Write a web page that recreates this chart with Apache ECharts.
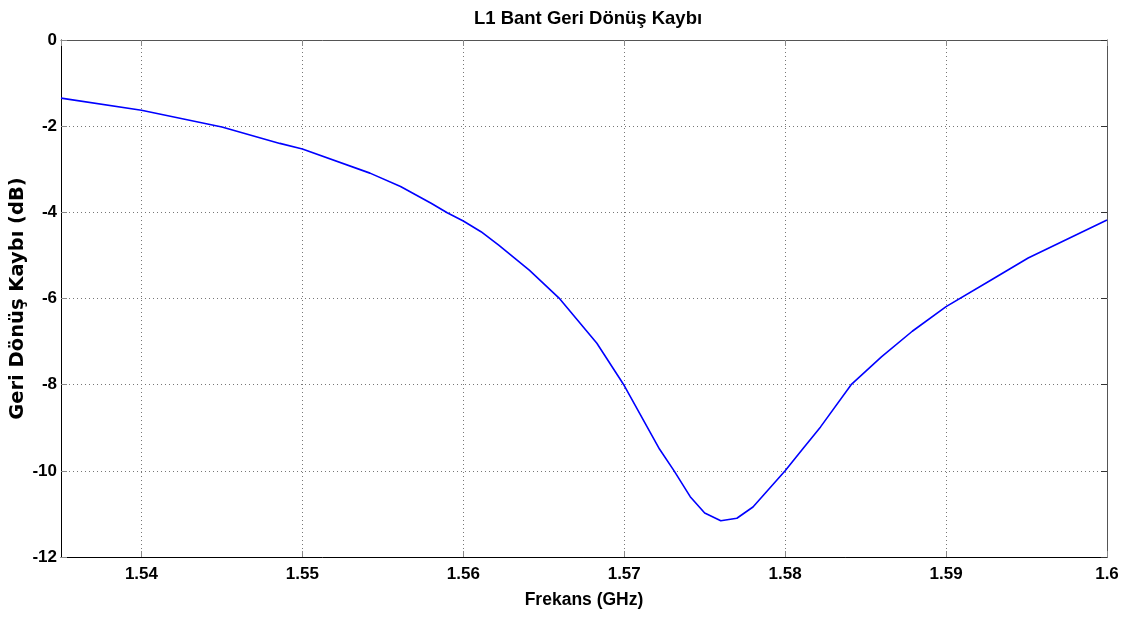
<!DOCTYPE html>
<html>
<head>
<meta charset="utf-8">
<script src="https://cdn.jsdelivr.net/npm/echarts@6/dist/echarts.min.js"></script>
<style>html,body{margin:0;padding:0;background:#fff;}#c{width:1132px;height:621px;}</style>
</head>
<body>
<div id="c"></div>
<script>
const frequencies = [1.535,1.540,1.545,1.5486,1.550,1.5542,1.5561,1.5580,1.5590,1.5600,1.5611,1.5622,1.5641,1.5660,1.5683,1.5700,1.5722,1.5731,1.5741,1.5750,1.5760,1.5770,1.5780,1.5800,1.5811,1.5822,1.5841,1.5860,1.5879,1.5900,1.5928,1.5951,1.6000];
const returnLoss = [-1.35,-1.63,-2.02,-2.40,-2.53,-3.09,-3.40,-3.79,-4.01,-4.20,-4.45,-4.76,-5.34,-6.01,-7.04,-8.02,-9.50,-10.0,-10.6,-10.98,-11.16,-11.10,-10.84,-10.0,-9.49,-8.98,-8.0,-7.35,-6.76,-6.19,-5.57,-5.06,-4.18];
const titleText = 'L1 Bant Geri Dönüş Kaybı';
const xName = 'Frekans (GHz)';
const yName = 'Geri Dönüş Kaybı (dB)';

const sans = 'Liberation Sans, Arial, sans-serif';
const chart = echarts.init(document.getElementById('c'), null, {renderer: 'canvas'});
const lbl = {fontFamily: sans, fontWeight: 'bold', fontSize: 17, color: '#000'};
chart.setOption({
  animation: false,
  backgroundColor: '#fff',
  title: {text: titleText, left: 583, textAlign: 'center', top: 4,
    textStyle: {fontFamily: sans, fontWeight: 'bold', fontSize: 18.5, color: '#000'}},
  grid: {left: 61, right: 25, top: 40, bottom: 64, containLabel: false, outerBoundsMode: 'none'},
  xAxis: [{
    type: 'value', min: 1.535, max: 1.6, splitNumber: 7,
    name: xName, nameLocation: 'middle', nameGap: 34,
    nameTextStyle: {fontFamily: sans, fontWeight: 'bold', fontSize: 17.5, color: '#000'},
    axisLine: {show: true, onZero: false, lineStyle: {color: '#000', width: 1}},
    axisTick: {show: true, inside: true, length: 6, lineStyle: {color: '#888'}},
    axisLabel: Object.assign({showMinLabel: false, margin: 9,
      formatter: v => String(+v.toFixed(3))}, lbl),
    splitLine: {show: true, lineStyle: {color: '#777', type: [1, 3], width: 1}}
  }, {
    type: 'value', position: 'top', min: 1.535, max: 1.6, splitNumber: 7,
    axisLine: {show: true, onZero: false, lineStyle: {color: '#555', width: 1}},
    axisTick: {show: true, inside: true, length: 6, lineStyle: {color: '#888'}},
    axisLabel: {show: false}, splitLine: {show: false}
  }],
  yAxis: [{
    type: 'value', min: -12, max: 0, interval: 2,
    name: yName, nameLocation: 'middle', nameGap: 33, nameRotate: 90, nameMoveOverlap: false,
    nameTextStyle: {fontFamily: 'DejaVu Sans, Verdana, sans-serif', fontWeight: 'bold', fontSize: 19.5, color: '#000'},
    axisLine: {show: true, onZero: false, lineStyle: {color: '#000', width: 1}},
    axisTick: {show: true, inside: true, length: 6, lineStyle: {color: '#888'}},
    axisLabel: Object.assign({margin: 4, formatter: v => String(v)}, lbl),
    splitLine: {show: true, lineStyle: {color: '#777', type: [1, 3], width: 1}}
  }, {
    type: 'value', position: 'right', min: -12, max: 0, interval: 2,
    axisLine: {show: true, onZero: false, lineStyle: {color: '#555', width: 1}},
    axisTick: {show: true, inside: true, length: 6, lineStyle: {color: '#333'}},
    axisLabel: {show: false}, splitLine: {show: false}
  }],
  series: [{
    type: 'line', xAxisIndex: 0, yAxisIndex: 0,
    data: frequencies.map((f, i) => [f, returnLoss[i]]),
    showSymbol: false, smooth: false,
    lineStyle: {color: '#0000ff', width: 1.6},
    itemStyle: {color: '#0000ff'}
  }]
});
</script>
</body>
</html>
